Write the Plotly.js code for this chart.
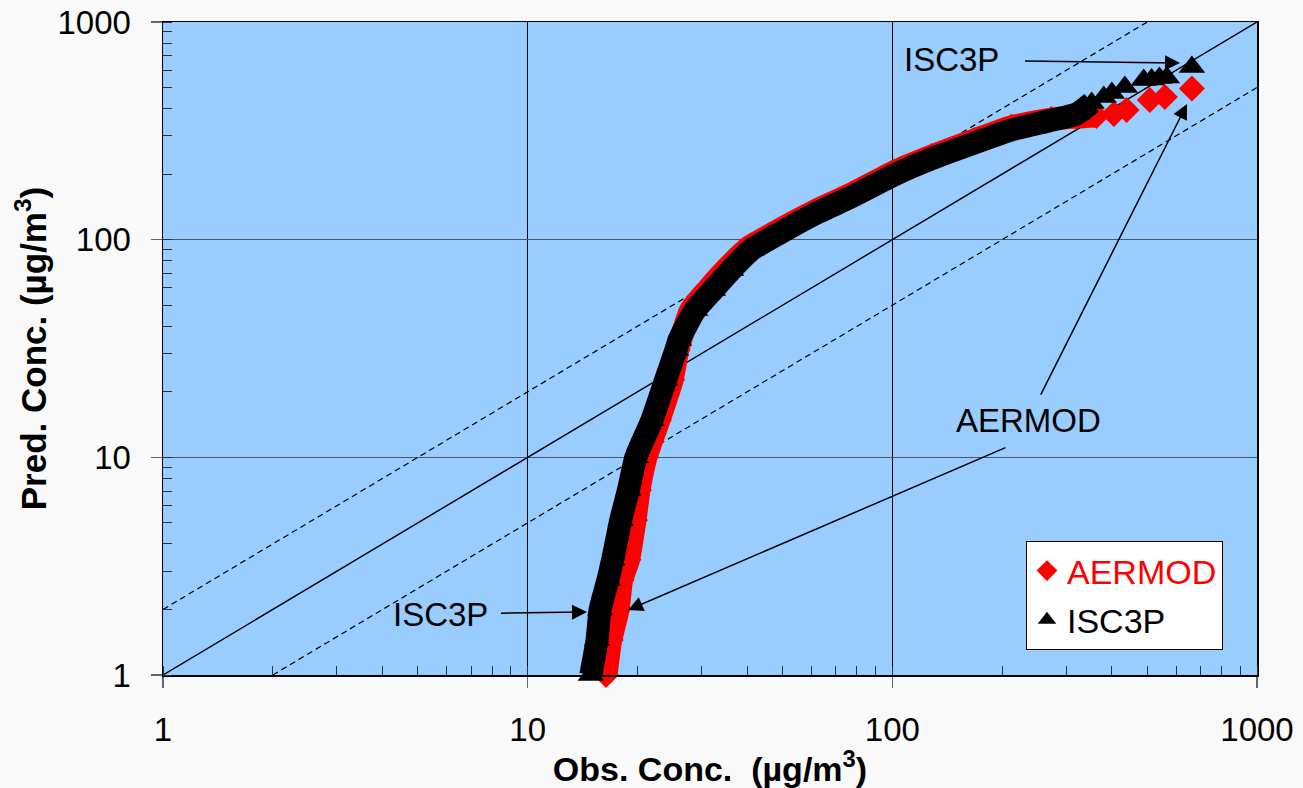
<!DOCTYPE html>
<html>
<head>
<meta charset="utf-8">
<script src="https://cdn.plot.ly/plotly-3.0.1.min.js"></script>
<style>
  html, body { margin: 0; padding: 0; background: #f9f9f9; }
  #chart { width: 1303px; height: 788px; }
</style>
</head>
<body>
<div id="chart"></div>
<script>
// ---- Data ----
const seriesNames = ["AERMOD", "ISC3P"];

const obsAERMOD  = [16.4, 16.9, 17.7, 18.1, 18.9, 19.7, 20.2, 21.1, 22.9, 24.9, 25.8, 28.0, 31.6, 35.5, 40.5, 49.5, 61.1, 77.1, 101, 128, 168, 212, 273, 320, 363, 405, 439, 508, 559, 663];
const predAERMOD = [1.0, 1.45, 2.0, 2.73, 3.38, 5.15, 7.08, 10.0, 14.8, 22.7, 31.1, 47.5, 60.6, 75, 92.5, 112, 135, 162, 205, 242, 287, 330, 358, 366, 370, 378, 394, 438, 452, 495];

const obsISC3P  = [14.9, 15.5, 15.8, 16.6, 17.1, 18.0, 18.9, 19.8, 21.9, 23.9, 25.5, 26.0, 28.8, 32.2, 36.1, 41.0, 49.5, 61.1, 77.1, 101, 128, 168, 212, 268, 320, 352, 380, 400, 434, 489, 514, 540, 566, 663];
const predISC3P = [1.0, 1.45, 2.0, 2.73, 3.38, 5.15, 7.08, 10.0, 14.8, 22.7, 31.1, 34.6, 47.5, 58.7, 72.6, 89.7, 108, 131, 157, 198, 235, 278, 319, 351, 378, 425, 452, 472, 503, 541, 545, 553, 556, 621];

// number of leading points that form the dense continuous band
const denseAERMOD = 25;
const denseISC3P = 26;

// reference lines: 1:1 and factor-of-two
const oneToOneX = [1, 1000], oneToOneY = [1, 1000];
const upperX = [1, 500],     upperY = [2, 1000];
const lowerX = [2, 1000],    lowerY = [1, 500];

const axisTickVals = [1, 10, 100, 1000];

// ---- Layout helpers ----
const FONT = "Liberation Sans, Arial, Helvetica, sans-serif";
const L = 163, R = 1257, T = 22, B = 675;
const px = v => (v - L) / (R - L);
const py = v => (B - v) / (B - T);

const traces = [
  { x: oneToOneX, y: oneToOneY, mode: "lines", line: { color: "#000", width: 1.4 }, showlegend: false, hoverinfo: "skip" },
  { x: upperX, y: upperY, mode: "lines", line: { color: "#000", width: 1.2, dash: "6px,4px" }, showlegend: false, hoverinfo: "skip" },
  { x: lowerX, y: lowerY, mode: "lines", line: { color: "#000", width: 1.2, dash: "6px,4px" }, showlegend: false, hoverinfo: "skip" },
  { x: obsAERMOD.slice(0, denseAERMOD), y: predAERMOD.slice(0, denseAERMOD), mode: "lines",
    line: { color: "#ff0000", width: 23, shape: "spline", smoothing: 0.5 }, showlegend: false, legendgroup: "a", hoverinfo: "skip" },
  { x: obsAERMOD, y: predAERMOD, mode: "markers", name: '<span style="color:#ff0000">' + seriesNames[0] + '</span>',
    legendgroup: "a", marker: { symbol: "diamond", color: "#ff0000", size: 20 }, cliponaxis: false },
  { x: obsISC3P.slice(0, denseISC3P), y: predISC3P.slice(0, denseISC3P), mode: "lines",
    line: { color: "#000000", width: 23, shape: "spline", smoothing: 0.5 }, showlegend: false, legendgroup: "b", hoverinfo: "skip" },
  { x: obsISC3P, y: predISC3P, mode: "markers", name: seriesNames[1],
    legendgroup: "b", marker: { symbol: "triangle-up", color: "#000000", size: 23 }, cliponaxis: false }
];

function arrowLabel(text, cx, cy, tipX, tipY, startStandoff) {
  return { xref: "paper", yref: "paper", x: px(tipX), y: py(tipY), ax: cx - tipX, ay: cy - tipY,
    text: text, showarrow: true, arrowhead: 2, arrowsize: 2, arrowwidth: 1.5, arrowcolor: "#000",
    startstandoff: startStandoff, font: { family: FONT, size: 33, color: "#000" } };
}
function arrow(tailX, tailY, tipX, tipY) {
  return { xref: "paper", yref: "paper", x: px(tipX), y: py(tipY), ax: tailX - tipX, ay: tailY - tipY,
    text: "", showarrow: true, arrowhead: 2, arrowsize: 2, arrowwidth: 1.5, arrowcolor: "#000" };
}

const axisCommon = {
  type: "log", range: [0, 3], dtick: 1, tickvals: axisTickVals, ticktext: axisTickVals.map(String),
  showline: true, linecolor: "#000", linewidth: 1.5, mirror: true,
  ticks: "outside", ticklen: 11, tickwidth: 1.5, tickcolor: "#666",
  tickfont: { family: FONT, size: 33, color: "#000" },
  minor: { ticks: "inside", ticklen: 9, tickwidth: 1, tickcolor: "#333", dtick: "D1", showgrid: false },
  zeroline: false, automargin: false
};

const layout = {
  width: 1303, height: 788,
  margin: { l: L, r: 1303 - R, t: T, b: 788 - B },
  paper_bgcolor: "#f9f9f9", plot_bgcolor: "#99ccff",
  font: { family: FONT, color: "#000" },
  xaxis: Object.assign({}, axisCommon, {
    showgrid: true, gridcolor: "#000", gridwidth: 1, ticklabelstandoff: 14,
    title: { text: "<b>Obs. Conc.  (µg/m<sup>3</sup>)</b>", font: { family: FONT, size: 34, color: "#000" }, standoff: 4 }
  }),
  yaxis: Object.assign({}, axisCommon, {
    showgrid: true, gridcolor: "#4a5868", gridwidth: 1.5, ticklabelstandoff: 13,
    title: { text: "<b>Pred. Conc. (µg/m<sup>3</sup>)</b>", font: { family: FONT, size: 35, color: "#000" }, standoff: 0 }
  }),
  showlegend: true,
  legend: {
    x: px(1026), y: py(541), xanchor: "left", yanchor: "top",
    bgcolor: "#ffffff", bordercolor: "#000", borderwidth: 1,
    font: { family: FONT, size: 34, color: "#000" },
    traceorder: "grouped", tracegroupgap: 2, itemsizing: "trace"
  },
  annotations: [
    arrowLabel("ISC3P", 951, 60, 1180, 63, 25),
    arrowLabel("AERMOD", 1028, 420, 1187, 104, 6),
    arrow(1007, 447, 628, 610),
    arrowLabel("ISC3P", 440, 614, 587, 612, 12)
  ]
};

Plotly.newPlot("chart", traces, layout, { displayModeBar: false, staticPlot: true });
</script>
</body>
</html>
